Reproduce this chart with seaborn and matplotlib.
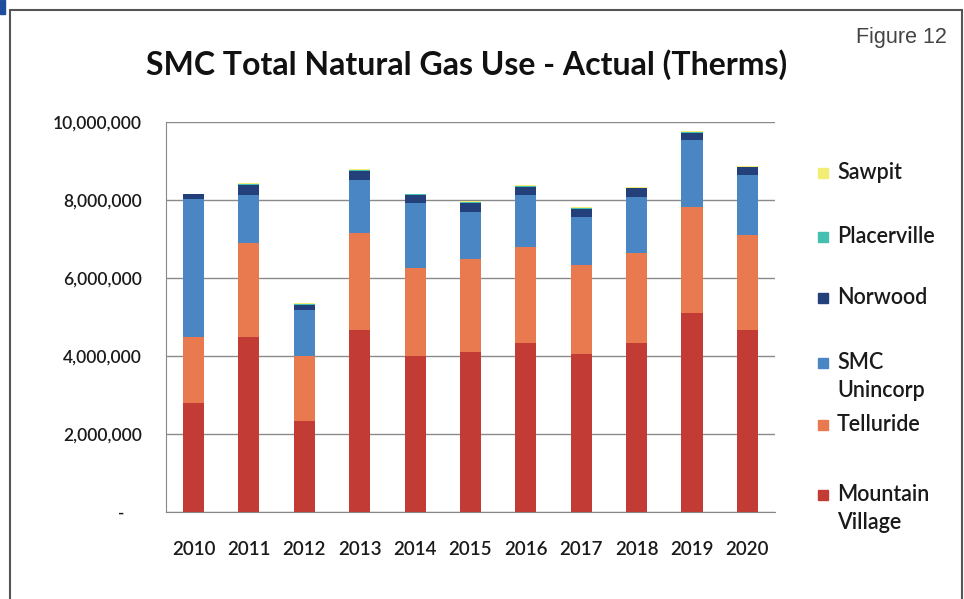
import pandas as pd
import numpy as np
import matplotlib
matplotlib.use('Agg')
import matplotlib.pyplot as plt
import seaborn as sns
from matplotlib.patches import Rectangle

# data (millions of therms)
years = ['2010', '2011', '2012', '2013', '2014', '2015',
         '2016', '2017', '2018', '2019', '2020']
mountain_village = [2.79, 4.49, 2.33, 4.67, 4.00, 4.10, 4.33, 4.05, 4.33, 5.10, 4.67]
telluride = [1.70, 2.41, 1.67, 2.48, 2.26, 2.39, 2.47, 2.28, 2.31, 2.72, 2.43]
smc_unincorp = [3.54, 1.23, 1.18, 1.36, 1.66, 1.21, 1.33, 1.23, 1.44, 1.72, 1.54]
norwood = [0.12, 0.26, 0.14, 0.25, 0.22, 0.24, 0.22, 0.22, 0.22, 0.18, 0.20]
placerville = [0.01, 0.02, 0.02, 0.02, 0.01, 0.01, 0.02, 0.02, 0.02, 0.02, 0.02]
sawpit = [0.01, 0.02, 0.03, 0.01, 0.01, 0.02, 0.02, 0.02, 0.01, 0.03, 0.02]

series = ['Mountain Village', 'Telluride', 'SMC Unincorp',
          'Norwood', 'Placerville', 'Sawpit']
legend_labels = ['Mountain\nVillage', 'Telluride', 'SMC\nUnincorp',
                 'Norwood', 'Placerville', 'Sawpit']
colors = ['#c23b35', '#e97a50', '#4a85c4', '#23407a', '#45c0b0', '#f2ee74']

df = pd.DataFrame({'year': years,
                   'Mountain Village': mountain_village,
                   'Telluride': telluride,
                   'SMC Unincorp': smc_unincorp,
                   'Norwood': norwood,
                   'Placerville': placerville,
                   'Sawpit': sawpit})
df[series] = df[series] * 1e6

# cumulative totals for stacking
cum = df[series].cumsum(axis=1)
cum['year'] = df['year']

sns.set_style('white')
plt.rcParams['font.family'] = ['Lato', 'DejaVu Sans']

fig = plt.figure(figsize=(9.64, 5.99), dpi=100)
ax = fig.add_axes([0.172, 0.145, 0.632, 0.651])

# draw from top layer down so lower layers cover the upper ones
for name, color in reversed(list(zip(series, colors))):
    sns.barplot(data=cum, x='year', y=name, color=color, width=0.38,
                saturation=1, ax=ax, zorder=3, edgecolor='none', linewidth=0)

ax.set_ylim(0, 10e6)
ax.set_xlim(-0.5, 10.5)
ax.set_yticks(np.arange(0, 10.1e6, 2e6))
ax.set_yticklabels(['-    '] + [f'{int(v):,}' for v in np.arange(2e6, 10.1e6, 2e6)],
                   fontsize=12.5, color='#1a1a1a', fontweight='semibold')
ax.set_xticks(range(len(years)))
ax.set_xticklabels(years, fontsize=13.5, color='#1a1a1a', fontweight='semibold')
ax.set_xticks(np.arange(-0.5, 11, 1), minor=True)
ax.tick_params(axis='x', which='major', length=0, pad=21)
ax.tick_params(axis='x', which='minor', length=5, color='#888888', direction='out')
ax.tick_params(axis='y', length=5, color='#888888', direction='out', pad=12)
ax.set_xlabel('')
ax.set_ylabel('')
ax.yaxis.grid(True, color='#8a8a8a', linewidth=1)
ax.set_axisbelow(True)
for side in ['top', 'right']:
    ax.spines[side].set_visible(False)
for side in ['left', 'bottom']:
    ax.spines[side].set_color('#888888')

# legend, drawn by hand so the squares sit on the first text line
legend_rows = [173, 237, 298, 363, 425, 495]   # pixel rows, top of stack first
for label, color, row in zip(legend_labels[::-1], colors[::-1], legend_rows):
    yf = 1 - row / 599
    fig.patches.append(Rectangle((818 / 964, yf - 5 / 599), 10 / 964, 10 / 599,
                                 transform=fig.transFigure, color=color))
    fig.text(837 / 964, yf + 11 / 599, label, ha='left', va='top', fontsize=15.5,
             color='#1a1a1a', fontweight='semibold', linespacing=1.4)

fig.text(0.484, 0.892, 'SMC Total Natural Gas Use - Actual (Therms)',
         ha='center', va='center', fontsize=23, fontweight='bold', color='#111111')
fig.text(0.982, 0.938, 'Figure 12', ha='right', va='center', fontsize=15.5,
         color='#444444', family=['Liberation Sans', 'DejaVu Sans'])

# outer frame and corner mark
fig.patches.append(Rectangle((10 / 964, -0.01), 952 / 964, 1 - 10 / 599 + 0.01,
                             transform=fig.transFigure, fill=False,
                             edgecolor='#555555', linewidth=1.5))
fig.patches.append(Rectangle((0, 1 - 14 / 599), 5 / 964, 14 / 599,
                             transform=fig.transFigure, color='#1f4e9c'))

fig.savefig('out.png', dpi=100)
